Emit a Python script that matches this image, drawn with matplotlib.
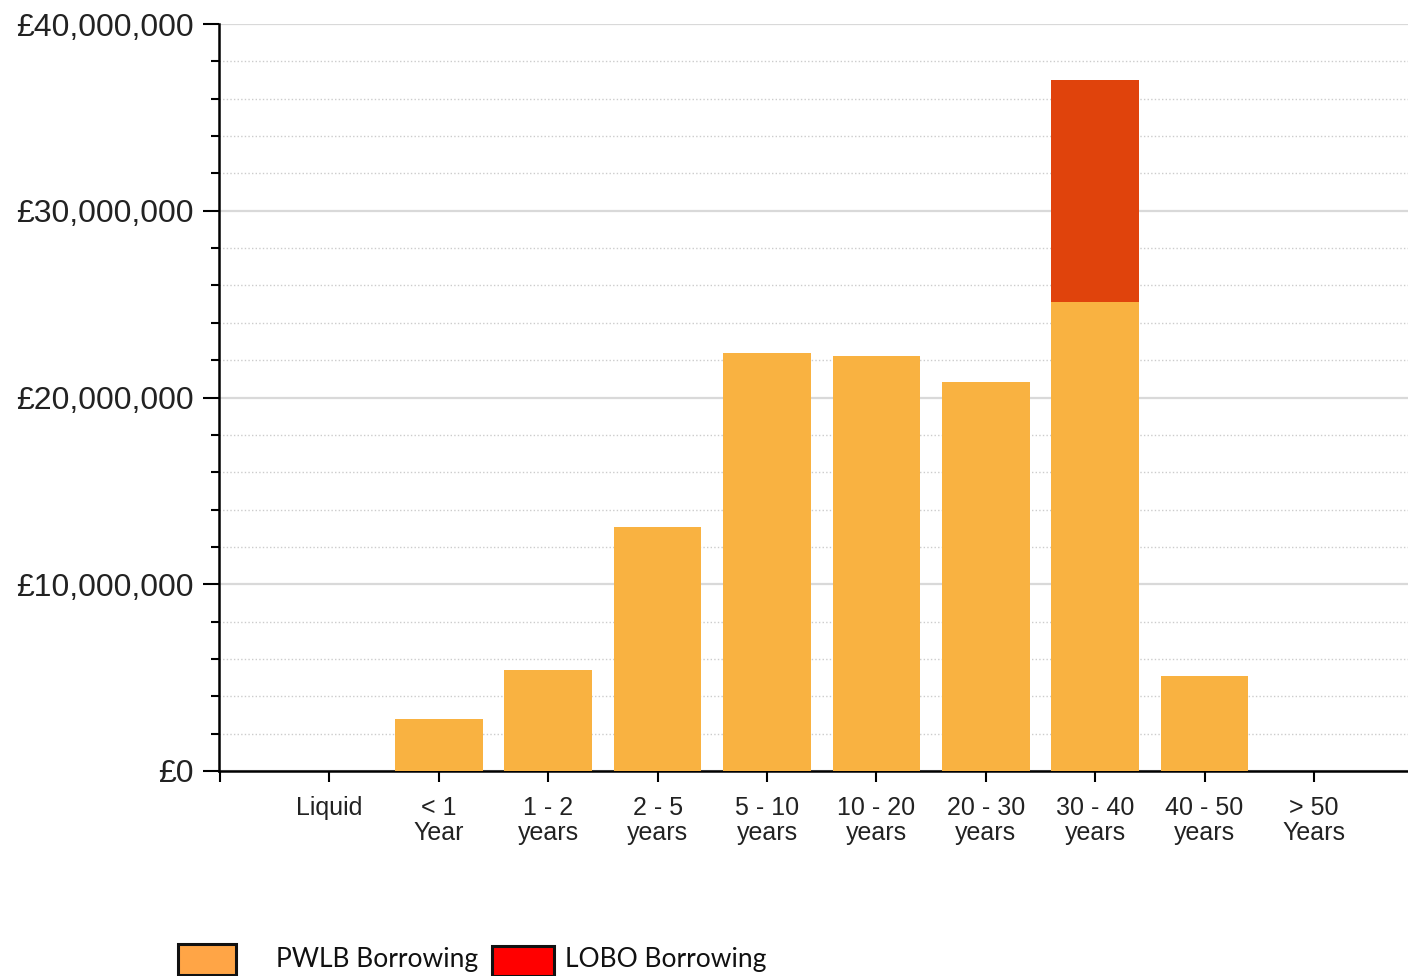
import matplotlib
matplotlib.use("Agg")
import matplotlib.pyplot as plt
from matplotlib.patches import Rectangle
from matplotlib.ticker import FuncFormatter, MultipleLocator

categories = ["Liquid", "< 1\nYear", "1 - 2\nyears", "2 - 5\nyears", "5 - 10\nyears",
              "10 - 20\nyears", "20 - 30\nyears", "30 - 40\nyears", "40 - 50\nyears",
              "> 50\nYears"]
pwlb = [0, 2.78e6, 5.41e6, 13.07e6, 22.38e6, 22.22e6, 20.83e6, 25.11e6, 5.09e6, 0]
lobo = [0, 0, 0, 0, 0, 0, 0, 11.89e6, 0, 0]

COLOR_PWLB = "#F9B241"
COLOR_LOBO = "#E0430C"

fig = plt.figure(figsize=(14.08, 9.76), dpi=100)
ax = fig.add_axes([219 / 1408, 1 - 771 / 976, 1 - 219 / 1408, (771 - 24) / 976])

x = list(range(len(categories)))
ax.bar(x, pwlb, width=0.8, color=COLOR_PWLB, zorder=3)
ax.bar(x, lobo, width=0.8, bottom=pwlb, color=COLOR_LOBO, zorder=3)

ax.set_xlim(-1.01, 9.86)
ax.set_ylim(0, 40e6)

# y axis: majors every 10M, minors every 2M
ax.yaxis.set_major_locator(MultipleLocator(10e6))
ax.yaxis.set_minor_locator(MultipleLocator(2e6))
ax.yaxis.set_major_formatter(FuncFormatter(lambda v, _: f"£{v:,.0f}"))
ax.grid(axis="y", which="major", color="#d9d9d9", linewidth=1.6, zorder=0)
ax.grid(axis="y", which="minor", color="#cccccc", linewidth=1.0,
        linestyle=(0, (1.0, 1.6)), zorder=0)
ax.tick_params(axis="y", which="major", length=11.5, width=1.5, pad=7,
               labelsize=23, labelcolor="#222222")
ax.tick_params(axis="y", which="minor", length=5.8, width=1.5)
for lbl in ax.get_yticklabels():
    lbl.set_family("Liberation Sans")

# x axis
ax.set_xticks([-1] + x)
ax.set_xticklabels([""] + categories, fontsize=18, family="Liberation Sans",
                   linespacing=1.05, color="#222222")
ax.tick_params(axis="x", length=8, width=1.5, pad=10)

for side in ["top", "right"]:
    ax.spines[side].set_visible(False)
ax.spines["left"].set_linewidth(1.8)
ax.spines["bottom"].set_linewidth(1.8)

# legend drawn as a separate strip under the chart
W, H = 1408, 976
fig.add_artist(Rectangle((178 / W, 1 - 975 / H), 58 / W, 31 / H,
                         transform=fig.transFigure, facecolor="#FFA546",
                         edgecolor="#111111", linewidth=2.2))
fig.text(276 / W, 1 - 959 / H, "PWLB Borrowing", fontsize=19, family="Lato",
         va="center", ha="left", color="#111111")
fig.add_artist(Rectangle((492 / W, 1 - 976 / H), 62 / W, 30 / H,
                         transform=fig.transFigure, facecolor="#FF0000",
                         edgecolor="#111111", linewidth=2.2))
fig.text(565 / W, 1 - 959 / H, "LOBO Borrowing", fontsize=19, family="Lato",
         va="center", ha="left", color="#111111")

fig.savefig("out.png", dpi=100)
